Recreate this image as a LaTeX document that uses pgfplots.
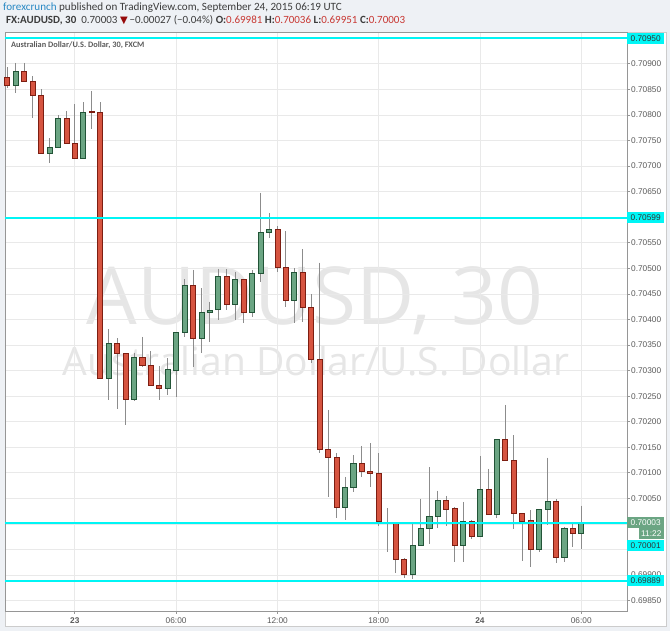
\documentclass[border=0pt]{standalone}
\usepackage{fontspec}
\setmainfont{Liberation Sans}
\newfontfamily\calib{Carlito}
\newfontfamily\osans{Open Sans}
\newfontfamily\djv{DejaVu Sans}
\usepackage{pgfplots}
\usepackage{pgfplotstable}
\usetikzlibrary{backgrounds}
\pgfplotsset{compat=1.18}

\definecolor{bgout}{RGB}{238,241,245}
\definecolor{gridc}{RGB}{233,233,233}
\definecolor{framec}{RGB}{150,150,150}
\definecolor{tickc}{RGB}{90,90,90}
\definecolor{upfill}{RGB}{107,165,131}
\definecolor{updraw}{RGB}{34,84,55}
\definecolor{dnfill}{RGB}{214,84,64}
\definecolor{dndraw}{RGB}{125,30,18}
\definecolor{wickc}{RGB}{140,140,140}
\definecolor{lvl}{RGB}{0,245,245}
\definecolor{wmark}{RGB}{230,230,230}
\definecolor{hdr}{RGB}{60,60,60}
\definecolor{blueuser}{RGB}{41,137,196}
\definecolor{redval}{RGB}{200,55,50}
\definecolor{arrowred}{RGB}{150,10,10}

% 30 min bars, i=0 is 20:00 Sep 22
\pgfplotstableread{
i  o       h       l       c
1  0.70858 0.70902 0.70842 0.70886
5  0.70725 0.70754 0.70707 0.70736
6  0.70736 0.70799 0.70736 0.70793
9  0.70716 0.70825 0.70716 0.70806
12 0.70285 0.70381 0.70243 0.70354
15 0.70243 0.70335 0.70240 0.70326
19 0.70265 0.70324 0.70252 0.70302
20 0.70301 0.70375 0.70249 0.70375
21 0.70375 0.70479 0.70366 0.70467
23 0.70364 0.70461 0.70334 0.70414
24 0.70413 0.70435 0.70355 0.70418
25 0.70419 0.70499 0.70398 0.70485
27 0.70430 0.70493 0.70399 0.70479
29 0.70414 0.70497 0.70405 0.70490
30 0.70490 0.70648 0.70474 0.70571
31 0.70571 0.70608 0.70559 0.70577
34 0.70438 0.70500 0.70394 0.70492
40 0.70032 0.70092 0.70008 0.70072
41 0.70072 0.70134 0.70063 0.70119
48 0.69902 0.70000 0.69892 0.69959
49 0.69959 0.70049 0.69958 0.69992
50 0.69992 0.70111 0.69961 0.70014
51 0.70014 0.70065 0.69993 0.70047
54 0.69959 0.70043 0.69925 0.70006
56 0.69975 0.70133 0.69975 0.70067
58 0.70018 0.70166 0.70011 0.70166
63 0.69950 0.70029 0.69946 0.70029
64 0.70029 0.70130 0.69998 0.70044
66 0.69935 0.69995 0.69926 0.69992
68 0.69981 0.70036 0.69951 0.70003
}\upT

\pgfplotstableread{
i  o       h       l       c
0  0.70873 0.70893 0.70852 0.70858
2  0.70886 0.70902 0.70865 0.70865
3  0.70866 0.70876 0.70795 0.70839
4  0.70839 0.70850 0.70723 0.70725
7  0.70793 0.70808 0.70745 0.70745
8  0.70745 0.70821 0.70716 0.70716
10 0.70807 0.70846 0.70772 0.70806
11 0.70806 0.70825 0.70283 0.70285
13 0.70354 0.70363 0.70225 0.70334
14 0.70334 0.70334 0.70194 0.70244
16 0.70326 0.70366 0.70308 0.70311
17 0.70311 0.70338 0.70271 0.70271
18 0.70271 0.70309 0.70243 0.70265
22 0.70467 0.70497 0.70308 0.70364
26 0.70485 0.70498 0.70419 0.70430
28 0.70479 0.70479 0.70393 0.70414
32 0.70577 0.70582 0.70493 0.70501
33 0.70501 0.70573 0.70424 0.70438
35 0.70492 0.70537 0.70396 0.70423
36 0.70423 0.70449 0.70314 0.70322
37 0.70322 0.70511 0.70138 0.70146
38 0.70146 0.70223 0.70053 0.70130
39 0.70130 0.70138 0.70011 0.70032
42 0.70119 0.70153 0.70092 0.70102
43 0.70102 0.70158 0.70073 0.70099
44 0.70099 0.70138 0.69996 0.70005
45 0.70004 0.70031 0.69946 0.70003
46 0.70001 0.70001 0.69904 0.69930
47 0.69931 0.69933 0.69894 0.69902
52 0.70047 0.70055 0.69996 0.70029
53 0.70030 0.70033 0.69925 0.69959
55 0.70006 0.70007 0.69970 0.69975
57 0.70067 0.70108 0.70018 0.70018
59 0.70166 0.70233 0.70125 0.70125
60 0.70125 0.70174 0.69990 0.70021
61 0.70021 0.70021 0.69928 0.70006
62 0.70008 0.70027 0.69916 0.69950
65 0.70044 0.70048 0.69924 0.69935
67 0.69992 0.70000 0.69954 0.69981
}\downT

% one wick + one body per row of a table
\newcommand\drawcandles[3]{%
  \pgfplotstablegetrowsof{#1}%
  \pgfmathtruncatemacro\lastrow{\pgfplotsretval-1}%
  \pgfplotsforeachungrouped \rr in {0,...,\lastrow}{%
    \pgfplotstablegetelem{\rr}{i}\of#1\let\ci\pgfplotsretval
    \pgfplotstablegetelem{\rr}{o}\of#1\let\co\pgfplotsretval
    \pgfplotstablegetelem{\rr}{h}\of#1\let\ch\pgfplotsretval
    \pgfplotstablegetelem{\rr}{l}\of#1\let\cl\pgfplotsretval
    \pgfplotstablegetelem{\rr}{c}\of#1\let\cc\pgfplotsretval
    \pgfmathsetmacro\xa{\ci-0.3}%
    \pgfmathsetmacro\xb{\ci+0.3}%
    \edef\doit{%
      \noexpand\addplot[wickc, line width=0.8pt, mark=none] coordinates {(\ci,\ch) (\ci,\cl)};
      \noexpand\addplot[fill=#2, draw=#3, line width=0.7pt, mark=none]
        coordinates {(\xa,\co) (\xb,\co) (\xb,\cc) (\xa,\cc)} -- cycle;}%
    \doit}}

\begin{document}
\begin{tikzpicture}[x=1pt,y=1pt]
\begin{axis}[
  scale only axis, width=622pt, height=579pt,
  xmin=-0.2725, xmax=73.42,
  ymin=0.698298, ymax=0.709623,
  clip=false,
  axis line style={framec, line width=0.8pt},
  xtick={8,20,32,44,56,68},
  xticklabels={\textbf{23},06:00,12:00,18:00,\textbf{24},06:00},
  ytick={0.6985,0.699,0.6995,0.7,0.7005,0.701,0.7015,0.702,0.7025,0.703,0.7035,0.704,
         0.7045,0.705,0.7055,0.706,0.7065,0.707,0.7075,0.708,0.7085,0.709,0.7095},
  yticklabels={0.69850,0.69900,,,0.70050,0.70100,0.70150,0.70200,0.70250,0.70300,
         0.70350,0.70400,0.70450,0.70500,0.70550,,0.70650,0.70700,0.70750,0.70800,
         0.70850,0.70900,},
  xtick pos=bottom, ytick pos=right, yticklabel pos=right,
  tick align=outside, major tick length=3pt,
  tick style={framec, line width=0.8pt},
  grid=major, major grid style={gridc, line width=0.8pt},
  ticklabel style={font=\fontsize{8.3}{10}\selectfont, text=tickc},
  yticklabel style={anchor=west, inner sep=1pt},
]
\drawcandles{\downT}{dnfill}{dndraw}
\drawcandles{\upT}{upfill}{updraw}

% horizontal levels
\addplot[lvl, line width=2pt, mark=none] coordinates {(-0.2725,0.7095) (73.42,0.7095)};
\addplot[lvl, line width=2pt, mark=none] coordinates {(-0.2725,0.70599) (73.42,0.70599)};
\addplot[lvl, line width=2pt, mark=none] coordinates {(-0.2725,0.70001) (73.42,0.70001)};
\addplot[lvl, line width=2pt, mark=none] coordinates {(-0.2725,0.69889) (73.42,0.69889)};

\coordinate (SW) at (rel axis cs:0,0);
\coordinate (rA) at (axis cs:73.42,0.7095);
\coordinate (rB) at (axis cs:73.42,0.70599);
\coordinate (rC) at (axis cs:73.42,0.70003);
\coordinate (rD) at (axis cs:73.42,0.69889);
\end{axis}

% page furniture, in page units (axis corner at 5,20)
\begin{scope}[shift={(SW)}, xshift=-5pt, yshift=-20pt]
  \begin{scope}[on background layer]
    \fill[bgout] (0,0) rectangle (670,631);
    \filldraw[fill=white, draw=gray!40, line width=0.8pt] (5,5) rectangle (666,599);
    \node[anchor=base, inner sep=0, text=wmark, font=\osans\fontsize{80}{84}\selectfont] at (315,306) {AUDUSD, 30};
    \node[anchor=base, inner sep=0, text=wmark, font=\osans\fontsize{39}{42}\selectfont] at (316,255) {Australian Dollar/U.S. Dollar};
  \end{scope}
  \node[anchor=base west, inner sep=0, text=hdr, font=\calib\fontsize{11.1}{13}\selectfont] at (3,620)
    {\textcolor{blueuser}{forexcrunch} published on TradingView.com, September 24, 2015 06:19 UTC};
  \node[anchor=base west, inner sep=0, text=hdr, font=\calib\fontsize{11}{13}\selectfont] at (6,607)
    {\textbf{FX:AUDUSD, 30}\ \ 0.70003 {\djv\fontsize{10}{12}\selectfont\textcolor{arrowred}{▼}}\,−0.00027 (−0.04\%)
     \textbf{O:}\textcolor{redval}{0.69981} \textbf{H:}\textcolor{redval}{0.70036}
     \textbf{L:}\textcolor{redval}{0.69951} \textbf{C:}\textcolor{redval}{0.70003}};
  \node[anchor=base west, inner sep=0, text=tickc, font=\calib\bfseries\fontsize{8.3}{10}\selectfont] at (11,583)
    {Australian Dollar/U.S. Dollar, 30, FXCM};
\end{scope}

\tikzset{lab/.style={anchor=west, inner sep=0pt, minimum width=37pt, minimum height=11pt,
  font=\fontsize{8.3}{10}\selectfont, text=black!80}}
\node[lab, fill=lvl] at (rA) {0.70950};
\node[lab, fill=lvl] at (rB) {0.70599};
\node[lab, fill=upfill, text=white] at (rC) {0.70003};
\node[lab, fill=upfill, text=white, minimum width=25pt, anchor=east] at ([xshift=37pt,yshift=-11pt]rC) {11:22};
\node[lab, fill=lvl] at ([yshift=-23pt]rC) {0.70001};
\node[lab, fill=lvl] at (rD) {0.69889};
\end{tikzpicture}
\end{document}
